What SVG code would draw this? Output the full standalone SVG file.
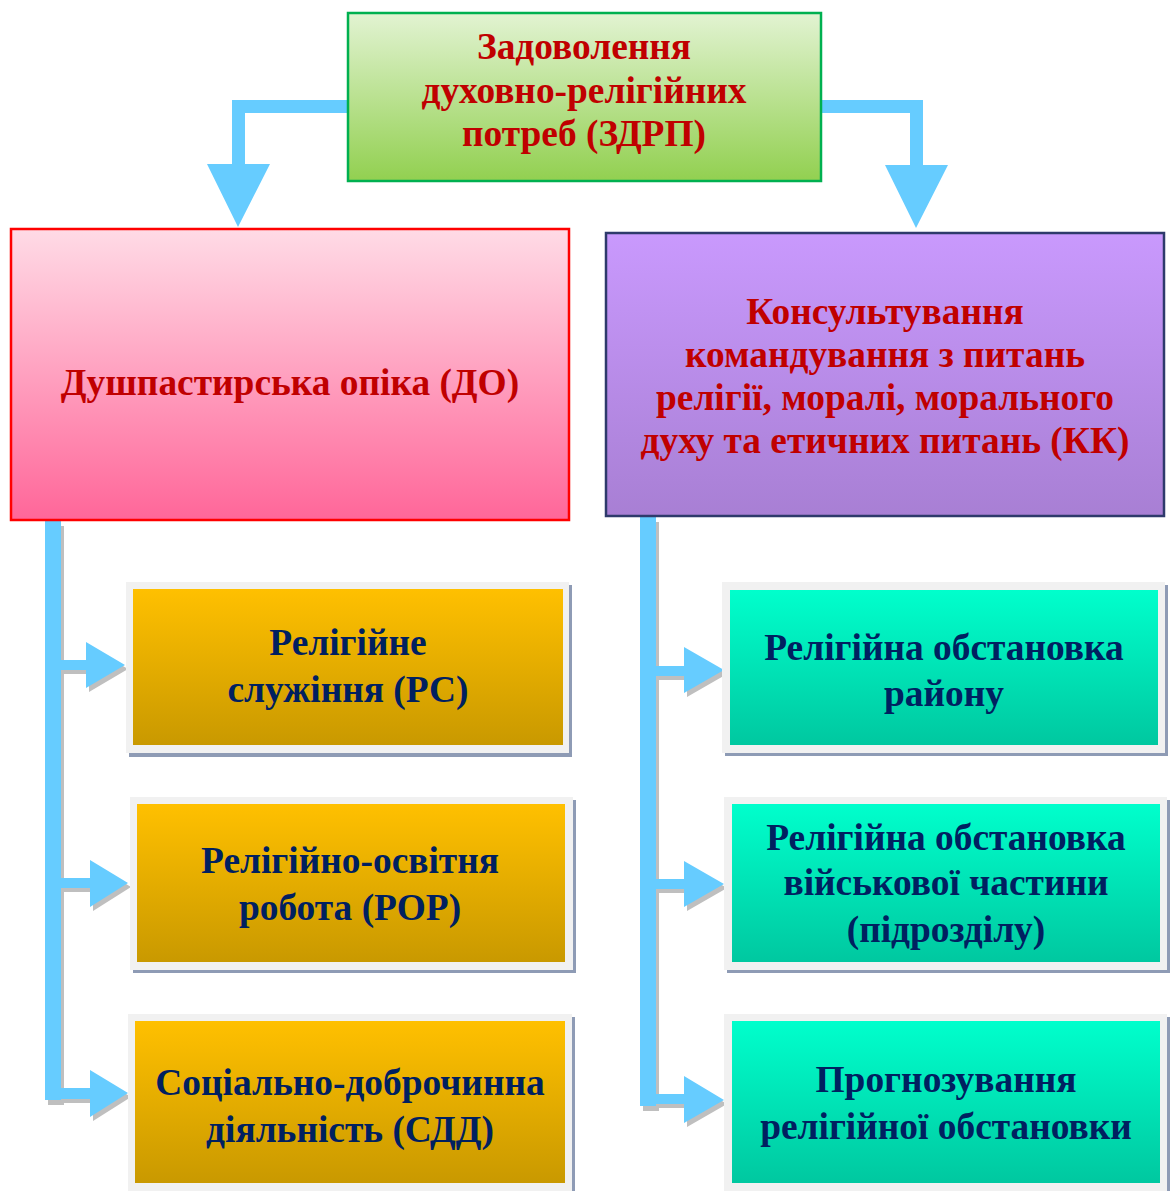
<svg xmlns="http://www.w3.org/2000/svg" width="1174" height="1191" viewBox="0 0 1174 1191">
<defs>
<linearGradient id="gGreen" x1="0" y1="0" x2="0" y2="1"><stop offset="0" stop-color="#e2f3d2"/><stop offset="1" stop-color="#92d050"/></linearGradient>
<linearGradient id="gPink" x1="0" y1="0" x2="0" y2="1"><stop offset="0" stop-color="#ffdbe6"/><stop offset="1" stop-color="#ff6699"/></linearGradient>
<linearGradient id="gPurple" x1="0" y1="0" x2="0" y2="1"><stop offset="0" stop-color="#c999fd"/><stop offset="1" stop-color="#a87fd4"/></linearGradient>
<linearGradient id="gOrange" x1="0" y1="0" x2="0" y2="1"><stop offset="0" stop-color="#ffc000"/><stop offset="1" stop-color="#c99900"/></linearGradient>
<linearGradient id="gTeal" x1="0" y1="0" x2="0" y2="1"><stop offset="0" stop-color="#00ffcc"/><stop offset="1" stop-color="#00c8a0"/></linearGradient>
</defs>
<style>
.t{font-family:"Liberation Serif","Times New Roman",serif;font-weight:bold;font-size:37.4px;text-anchor:middle}
.red{fill:#c00000}
.navy{fill:#002060}
.blue{fill:#66ccff}
.shd{fill:#bfbfbf}
.frame{fill:#f1f1f1}
.fsh{fill:#8e9bb5}
</style>

<g id="connectors">
  <polygon class="blue" points="347,100 232,100 232,164 207,164 238,227 270,164 245,164 245,113 347,113"/>
  <polygon class="blue" points="822,100 923,100 923,165 948,165 916,228 885,165 910,165 910,113 822,113"/>
  <rect class="shd" x="48" y="526" width="16" height="579"/>
  <polygon class="shd" points="64,664 89,664 89,646 128,669 89,692 89,674 64,674"/>
  <polygon class="shd" points="64,882 93,882 93,864 131,887 93,911 93,892 64,892"/>
  <polygon class="shd" points="64,1092 93,1092 93,1074 131,1097 93,1121 93,1103 64,1103"/>
  <rect class="blue" x="45" y="521" width="16" height="579"/>
  <polygon class="blue" points="61,660 86,660 86,642 125,665 86,688 86,670 61,670"/>
  <polygon class="blue" points="61,878 90,878 90,860 128,883 90,907 90,888 61,888"/>
  <polygon class="blue" points="61,1088 90,1088 90,1070 128,1093 90,1117 90,1099 61,1099"/>
  <rect class="shd" x="643" y="522" width="16" height="589"/>
  <polygon class="shd" points="659,670 687,670 687,651 727,674 687,697 687,680 659,680"/>
  <polygon class="shd" points="659,883 687,883 687,865 727,888 687,911 687,893 659,893"/>
  <polygon class="shd" points="659,1098 687,1098 687,1080 727,1104 687,1127 687,1108 659,1108"/>
  <rect class="blue" x="640" y="516" width="16" height="590"/>
  <polygon class="blue" points="656,666 684,666 684,647 724,670 684,693 684,676 656,676"/>
  <polygon class="blue" points="656,879 684,879 684,861 724,884 684,907 684,889 656,889"/>
  <polygon class="blue" points="656,1094 684,1094 684,1076 724,1100 684,1123 684,1104 656,1104"/>
</g>

<g id="node-zdrp">
  <rect x="348" y="13" width="473" height="168" fill="url(#gGreen)" stroke="#00b050" stroke-width="2.5"/>
  <text class="t red" x="584" y="59">Задоволення</text>
  <text class="t red" x="584" y="103">духовно-релігійних</text>
  <text class="t red" x="584" y="146">потреб (ЗДРП)</text>
</g>

<g id="node-do">
  <rect x="11" y="229" width="558" height="291" fill="url(#gPink)" stroke="#ff0000" stroke-width="2.5"/>
  <text class="t red" x="290" y="395">Душпастирська опіка (ДО)</text>
</g>

<g id="node-kk">
  <rect x="606" y="233" width="558" height="283" fill="url(#gPurple)" stroke="#2e3a6b" stroke-width="2.5"/>
  <text class="t red" x="885" y="324">Консультування</text>
  <text class="t red" x="885" y="367">командування з питань</text>
  <text class="t red" x="885" y="410">релігії, моралі, морального</text>
  <text class="t red" x="885" y="453">духу та етичних питань (КК)</text>
</g>

<g id="node-rs">
  <rect class="fsh" x="129" y="585" width="443" height="172"/>
  <rect class="frame" x="126" y="582" width="443" height="171"/>
  <rect x="133" y="589" width="430" height="156" fill="url(#gOrange)"/>
  <text class="t navy" x="348" y="655">Релігійне</text>
  <text class="t navy" x="348" y="702">служіння (РС)</text>
</g>

<g id="node-ror">
  <rect class="fsh" x="133" y="800" width="443" height="173"/>
  <rect class="frame" x="130" y="797" width="443" height="173"/>
  <rect x="137" y="804" width="428" height="158" fill="url(#gOrange)"/>
  <text class="t navy" x="350" y="873">Релігійно-освітня</text>
  <text class="t navy" x="350" y="920">робота (РОР)</text>
</g>

<g id="node-sdd">
  <rect class="fsh" x="131" y="1017" width="444" height="176"/>
  <rect class="frame" x="128" y="1014" width="444" height="177"/>
  <rect x="135" y="1021" width="430" height="162" fill="url(#gOrange)"/>
  <text class="t navy" x="350" y="1095">Соціально-доброчинна</text>
  <text class="t navy" x="350" y="1142">діяльність (СДД)</text>
</g>

<g id="node-ro-rayon">
  <rect class="fsh" x="725" y="585" width="443" height="171"/>
  <rect class="frame" x="722" y="582" width="443" height="171"/>
  <rect x="730" y="590" width="428" height="155" fill="url(#gTeal)"/>
  <text class="t navy" x="944" y="660">Релігійна обстановка</text>
  <text class="t navy" x="944" y="706">району</text>
</g>

<g id="node-ro-chastyna">
  <rect class="fsh" x="727" y="800" width="443" height="173"/>
  <rect class="frame" x="724" y="797" width="443" height="173"/>
  <rect x="732" y="804" width="428" height="158" fill="url(#gTeal)"/>
  <text class="t navy" x="946" y="850">Релігійна обстановка</text>
  <text class="t navy" x="946" y="895">військової частини</text>
  <text class="t navy" x="946" y="942">(підрозділу)</text>
</g>

<g id="node-prognoz">
  <rect class="fsh" x="727" y="1017" width="443" height="176"/>
  <rect class="frame" x="724" y="1014" width="443" height="177"/>
  <rect x="732" y="1021" width="428" height="162" fill="url(#gTeal)"/>
  <text class="t navy" x="946" y="1092">Прогнозування</text>
  <text class="t navy" x="946" y="1139">релігійної обстановки</text>
</g>
</svg>
